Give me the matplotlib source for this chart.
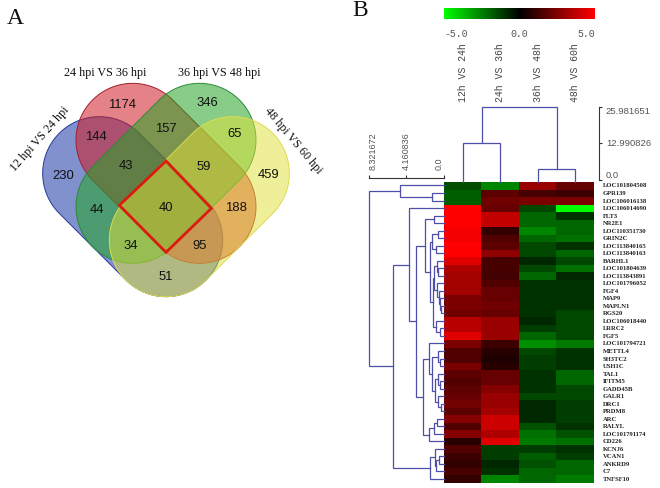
import numpy as np
import matplotlib
matplotlib.use('Agg')
import matplotlib.pyplot as plt
from matplotlib.colors import LinearSegmentedColormap, to_rgba
from matplotlib.patches import Polygon

# ---------- data ----------
set_names = ['12 hpi VS 24 hpi', '24 hpi VS 36 hpi', '36 hpi VS 48 hpi', '48 hpi VS 60 hpi']
region_counts = [1174, 346, 144, 157, 65, 230, 43, 59, 459, 44, 40, 188, 34, 95, 51]

columns = ['12h VS 24h', '24h VS 36h', '36h VS 48h', '48h VS 60h']
genes = ['LOC101804508', 'GPR139', 'LOC106016138', 'LOC106014690', 'FLT3', 'NR2E1',
         'LOC110351730', 'GRIN2C', 'LOC113840165', 'LOC113840163', 'BARHL1',
         'LOC101804639', 'LOC113843891', 'LOC101796052', 'FGF4', 'MAP9', 'MAPLN1',
         'RGS20', 'LOC106018440', 'LRRC2', 'FGF5', 'LOC101794721', 'METTL4', 'SH3TC2',
         'USH1C', 'TAL1', 'IFITM5', 'GADD45B', 'GALR1', 'DRC1', 'PRDM8', 'ARC', 'RALYL',
         'LOC101791174', 'CD226', 'KCNJ6', 'VCAN1', 'ANKRD9', 'C7', 'TNFSF10']
fc_12_24 = [-1.5, -1.8, -1.8, 5, 5, 5, 4.8, 4.8, 5, 5, 4.4, 3.4, 3.2, 3.2, 3.2, 2.4, 2.4, 2.2, 3.6, 3.6,
            4.4, 2.4, 1.6, 1.6, 2.4, 1.8, 1.6, 1.8, 2.0, 2.2, 1.8, 2.6, 1.6, 2.6, 0.8, 1.6, 1.2, 1.0, 1.4, 1.0]
fc_24_36 = [-2.6, 1.8, 2.2, 2.0, 3.8, 3.8, 1.0, 1.6, 1.8, 2.8, 1.4, 1.4, 1.3, 1.6, 2.0, 2.0, 2.2, 2.0, 3.0, 3.0,
            3.0, 1.2, 0.8, 0.6, 0.8, 2.0, 2.0, 2.6, 3.0, 3.0, 3.2, 4.0, 4.0, 3.4, 4.4, -1.2, -1.2, -0.8, -1.0, -2.6]
fc_36_48 = [3.0, 1.4, 2.4, -1.4, -2.0, -2.0, -2.6, -2.0, -1.4, -1.4, -0.8, -1.4, -2.0, -1.0, -1.0, -1.0, -1.0, -1.0, -0.8, -1.2,
            -2.0, -2.8, -1.4, -1.2, -1.2, -1.0, -1.0, -1.0, -1.4, -0.8, -0.8, -0.8, -1.6, -2.2, -2.4, -1.2, -1.8, -1.6, -2.0, -2.0]
fc_48_60 = [2.0, 1.2, 2.4, -5, -1.0, -2.0, -2.0, -2.2, -1.0, -2.0, -1.4, -2.2, -0.8, -1.0, -1.0, -1.0, -1.0, -1.4, -1.4, -1.4,
            -1.4, -2.4, -1.0, -1.0, -1.0, -2.0, -2.0, -1.4, -1.4, -1.2, -1.2, -1.2, -1.0, -1.6, -2.2, -1.0, -1.2, -2.0, -2.0, -2.4]
matrix = np.array([fc_12_24, fc_24_36, fc_36_48, fc_48_60]).T

# dendrograms: (height, left, right), leaves are row / column indices
row_tree = (8.32,
    (4.86, 0, (1.32, 1, 2)),
    (5.67,
        (3.89, 3,
            (3.1,
                (2.07, (1.06, 4, 5),
                    (1.5,
                        (1.32, (0.65, 6, 7), (0.87, 8, 9)),
                        (1.25,
                            (1.06, (0.8, 10, (0.6, 11, 12)),
                                   (0.75, 13, (0.55, 14, (0.4, 15, (0.3, 16, 17))))),
                            (0.87, 18, (0.39, 19, 20))))),
                (2.26,
                    (1.7, 21, (1.28, (0.61, 22, (0.39, 23, 24)),
                                     (0.95, (0.7, 25, (0.45, 26, 27)), (0.6, 28, (0.35, 29, 30))))),
                    (1.7, (1.06, (0.75, 31, 32), 33), 34)))),
        (1.5, (1.03, 35, (0.87, (0.5, 36, 37), 38)), 39)))
col_tree = (25.98, (12.99, 0, 1), (3.8, 2, 3))
row_ticks = [8.321672, 4.160836, 0.0]
col_ticks = [25.981651, 12.990826, 0.0]
scale_ticks = [-5.0, 0.0, 5.0]

# ---------- layout ----------
W, H = 660, 488
fig = plt.figure(figsize=(W / 100, H / 100), dpi=100, facecolor='white')

def px_axes(x0, y0, x1, y1):
    return fig.add_axes([x0 / W, 1 - y1 / H, (x1 - x0) / W, (y1 - y0) / H])

cmap = LinearSegmentedColormap.from_list('gkr', ['#00ff00', '#000000', '#ff0000'])
DENDRO = '#4f4fa8'
GREY = '#555555'
MONO = 'Liberation Mono'
SERIF = 'Liberation Serif'
SANS = 'Liberation Sans'

# ---------- panel A ----------
bg = px_axes(0, 0, W, H)
bg.set_xlim(0, W)
bg.set_ylim(H, 0)
bg.axis('off')

def capsule(p, q, r):
    p, q = np.array(p, float), np.array(q, float)
    a = np.arctan2(*(q - p)[::-1])
    t1 = np.linspace(a + np.pi / 2, a + 3 * np.pi / 2, 60)
    t2 = np.linspace(a - np.pi / 2, a + np.pi / 2, 60)
    return np.vstack([p + r * np.c_[np.cos(t1), np.sin(t1)], q + r * np.c_[np.cos(t2), np.sin(t2)]])

def zp(x, y):
    return (x / 3, y / 3 + 50)

R = 170 / 3
shapes = [(zp(298, 370), zp(498, 570), '#2B48AC', 0.60, '#28389a'),
          (zp(398, 270), zp(598, 470), '#D11B24', 0.55, '#a02030'),
          (zp(598, 270), zp(398, 470), '#24A424', 0.55, '#2a8a3a'),
          (zp(698, 370), zp(498, 570), '#E1E137', 0.50, '#dcdc50')]
for p, q, col, alpha, edge in shapes:
    bg.add_patch(Polygon(capsule(p, q, R), closed=True, facecolor=to_rgba(col, alpha),
                         edgecolor=edge, lw=0.7))

diamond = [zp(498, 333), zp(634, 475), zp(498, 607), zp(358, 466)]
bg.add_patch(Polygon(diamond, closed=True, fill=False, edgecolor='#dd1a10', lw=2.0, joinstyle='miter'))

count_pos = [(367, 165), (621, 160), (287, 262), (498, 238), (703, 253), (190, 378), (378, 349),
             (612, 351), (805, 375), (290, 480), (498, 475), (708, 473), (392, 587), (600, 587), (498, 682)]
for n, (x, y) in zip(region_counts, count_pos):
    bg.text(*zp(x, y), str(n), family=SANS, fontsize=9.4, color='#111111', ha='center', va='center')

name_pos = [(120, 268, 48.5), (316, 68, 0), (658, 68, 0), (880, 272, -50)]
for s, (x, y, rot) in zip(set_names, name_pos):
    bg.text(*zp(x, y), s, family=SERIF, fontsize=8.7, color='#111111', ha='center', va='center',
            rotation=rot, rotation_mode='anchor')

bg.text(15, 19, 'A', family=SERIF, fontsize=17, color='#111111', ha='center', va='center')
bg.text(360, 11, 'B', family=SERIF, fontsize=17, color='#111111', ha='center', va='center')

# ---------- panel B heatmap ----------
HX0, HX1, HY0, HY1 = 444, 594, 181.7, 482.7
hm = px_axes(HX0, HY0, HX1, HY1)
hm.imshow(matrix, cmap=cmap, vmin=-5, vmax=5, aspect='auto', interpolation='nearest',
          extent=(0, 4, len(genes), 0))
for s in hm.spines.values():
    s.set_visible(False)
hm.set_xticks([])
hm.yaxis.tick_right()
hm.set_yticks(np.arange(len(genes)) + 0.5)
hm.set_yticklabels(genes, family=SERIF, fontsize=4.8, fontweight='bold', color='#222222')
hm.tick_params(axis='y', length=0, pad=6.3)

# row dendrogram
ra = px_axes(369, HY0, 443.8, HY1)
ra.set_xlim(8.321672, 0)
ra.set_ylim(len(genes), 0)
ra.patch.set_alpha(0)

def draw_row(node):
    if not isinstance(node, tuple):
        return node + 0.5, 0.0
    h, a, b = node
    ya, ha_ = draw_row(a)
    yb, hb = draw_row(b)
    ra.plot([ha_, h, h, hb], [ya, ya, yb, yb], color=DENDRO, lw=0.9, clip_on=False, solid_joinstyle='miter')
    return (ya + yb) / 2, h

draw_row(row_tree)
for k, s in ra.spines.items():
    s.set_visible(k == 'top')
ra.spines['top'].set_position(('outward', 2.45))
ra.spines['top'].set_color('#333333')
ra.spines['top'].set_linewidth(0.8)
ra.set_yticks([])
ra.xaxis.tick_top()
ra.set_xticks(row_ticks)
ra.set_xticklabels([f'{v:.6f}' if v else '0.0' for v in row_ticks], rotation=90, family=SANS,
                   fontsize=6.5, color=GREY)
for lab, ha in zip(ra.get_xticklabels(), ['left', 'center', 'right']):
    lab.set_ha(ha)
ra.tick_params(axis='x', length=2.4, width=0.8, pad=3.6, color='#333333')

# column dendrogram
ca = px_axes(HX0, 106.7, 599, 180)
ca.set_xlim(0, 4 * (599 - HX0) / (HX1 - HX0))
ca.set_ylim(0, 25.981651)
ca.patch.set_alpha(0)

def draw_col(node):
    if not isinstance(node, tuple):
        return node + 0.5, -0.6
    h, a, b = node
    xa, ha_ = draw_col(a)
    xb, hb = draw_col(b)
    ca.plot([xa, xa, xb, xb], [ha_, h, h, hb], color=DENDRO, lw=0.9, clip_on=False, solid_joinstyle='miter')
    return (xa + xb) / 2, h

draw_col(col_tree)
for k, s in ca.spines.items():
    s.set_visible(k == 'right')
ca.spines['right'].set_color('#333333')
ca.spines['right'].set_linewidth(0.8)
ca.yaxis.tick_right()
ca.set_yticks(col_ticks)
ca.set_yticklabels([f'{v:.6f}' if v else '0.0' for v in col_ticks], family=SANS, fontsize=6.8, color=GREY)
for lab, va in zip(ca.get_yticklabels(), ['top', 'center', 'bottom']):
    lab.set_va(va)
ca.tick_params(axis='y', length=2.0, width=0.8, pad=3.0, color='#333333')
ca.xaxis.tick_top()
ca.set_xticks(np.arange(len(columns)) + 0.5)
ca.set_xticklabels(columns, rotation=90, family=MONO, fontsize=7.1, color='#444444')
ca.tick_params(axis='x', length=0, pad=3.4)

# colour scale
sc = px_axes(HX0, 8.3, 595, 19.3)
sc.imshow(np.linspace(-5, 5, 256)[None, :], cmap=cmap, vmin=-5, vmax=5, aspect='auto',
          extent=(-5, 5, 0, 1))
for s in sc.spines.values():
    s.set_visible(False)
sc.set_yticks([])
sc.set_xticks(scale_ticks)
sc.set_xticklabels([f'{v:.1f}' for v in scale_ticks], family=MONO, fontsize=7.1, color=GREY)
for lab, ha in zip(sc.get_xticklabels(), ['left', 'center', 'right']):
    lab.set_ha(ha)
sc.tick_params(axis='x', length=0, pad=7.2)

fig.savefig('out.png', dpi=100, facecolor='white')
